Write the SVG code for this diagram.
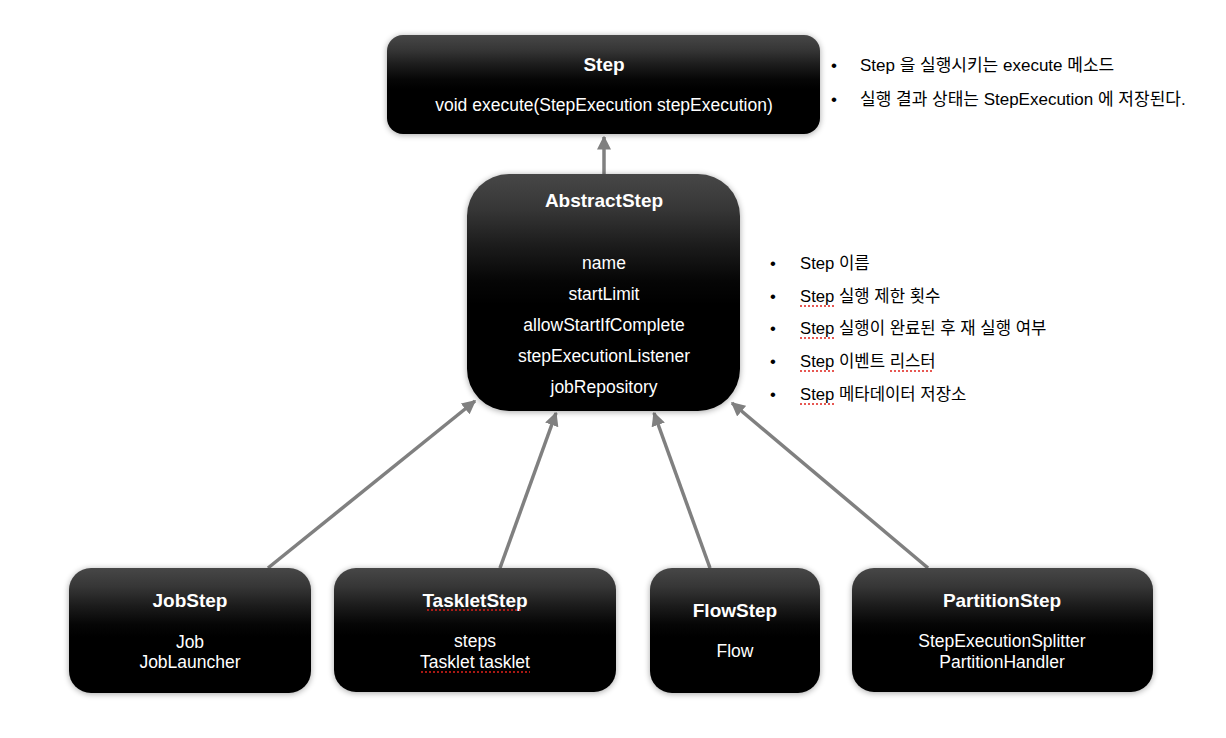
<svg xmlns="http://www.w3.org/2000/svg" width="1226" height="738" viewBox="0 0 1226 738">
<defs>
<linearGradient id="g" x1="0" y1="0" x2="0" y2="1">
<stop offset="0" stop-color="#474747"/>
<stop offset="0.15" stop-color="#363636"/>
<stop offset="0.3" stop-color="#1c1c1c"/>
<stop offset="0.45" stop-color="#060606"/>
<stop offset="0.55" stop-color="#000"/>
<stop offset="1" stop-color="#000"/>
</linearGradient>
<filter id="sh" x="-10%" y="-15%" width="120%" height="135%">
<feGaussianBlur stdDeviation="3"/>
</filter>
<marker id="ah" viewBox="0 0 10 10" refX="9" refY="5" markerWidth="4" markerHeight="4" orient="auto" markerUnits="strokeWidth">
<path d="M0,0 L10,5 L0,10 z" fill="#808080"/>
</marker>
<style>
.box{fill:url(#g)}
.shd{fill:#000;opacity:0.35;filter:url(#sh)}
.t{font-family:"Liberation Sans",Arial,sans-serif;fill:#fff;text-anchor:middle}
.b{font-weight:bold;font-size:19px}
.n{font-size:17.5px}
.k{font-family:"Liberation Sans","Noto Sans CJK KR",sans-serif;font-size:16.7px;fill:#000}
.k2{font-size:17px}
.c{stroke:#808080;stroke-width:3.5;fill:none;marker-end:url(#ah)}
.sq{stroke:#e0201a;stroke-width:1.5;stroke-dasharray:2,2;fill:none}
</style>
</defs>
<rect width="1226" height="738" fill="#fff"/>
<g id="connectors">
<line class="c" x1="604" y1="174" x2="604" y2="137"/>
<line class="c" x1="268" y1="568" x2="475" y2="401"/>
<line class="c" x1="500" y1="568" x2="556" y2="413"/>
<line class="c" x1="710" y1="568" x2="654" y2="413"/>
<line class="c" x1="928" y1="568" x2="732" y2="403"/>
</g>
<g id="step">
<rect class="shd" x="387" y="36" width="433" height="99" rx="16"/>
<rect class="box" x="387" y="35" width="433" height="99" rx="16"/>
<text class="t b" x="604" y="71">Step</text>
<text class="t n" x="604" y="111">void execute(StepExecution stepExecution)</text>
</g>
<g id="abstractstep">
<rect class="shd" x="467" y="175" width="273" height="237" rx="42"/>
<rect class="box" x="467" y="174" width="273" height="237" rx="42"/>
<text class="t b" x="604" y="207">AbstractStep</text>
<text class="t n" x="604" y="269">name</text>
<text class="t n" x="604" y="300">startLimit</text>
<text class="t n" x="604" y="331">allowStartIfComplete</text>
<text class="t n" x="604" y="362">stepExecutionListener</text>
<text class="t n" x="604" y="393">jobRepository</text>
</g>
<g id="jobstep">
<rect class="shd" x="69" y="569" width="242" height="125" rx="22"/>
<rect class="box" x="69" y="568" width="242" height="125" rx="22"/>
<text class="t b" x="190" y="607">JobStep</text>
<text class="t n" x="190" y="648">Job</text>
<text class="t n" x="190" y="668">JobLauncher</text>
</g>
<g id="taskletstep">
<rect class="shd" x="334" y="569" width="282" height="124" rx="22"/>
<rect class="box" x="334" y="568" width="282" height="124" rx="22"/>
<text class="t b" x="475" y="607">TaskletStep</text>
<text class="t n" x="475" y="647">steps</text>
<text class="t n" x="475" y="668">Tasklet tasklet</text>
<path class="sq" d="M427,610 H523 M421,672 H530"/>
</g>
<g id="flowstep">
<rect class="shd" x="650" y="569" width="170" height="125" rx="22"/>
<rect class="box" x="650" y="568" width="170" height="125" rx="22"/>
<text class="t b" x="735" y="617">FlowStep</text>
<text class="t n" x="735" y="657">Flow</text>
</g>
<g id="partitionstep">
<rect class="shd" x="852" y="569" width="301" height="124" rx="22"/>
<rect class="box" x="852" y="568" width="301" height="124" rx="22"/>
<text class="t b" x="1002" y="607">PartitionStep</text>
<text class="t n" x="1002" y="647">StepExecutionSplitter</text>
<text class="t n" x="1002" y="668">PartitionHandler</text>
</g>
<g id="step-notes">
<text class="k k2" x="831" y="71">•</text>
<text class="k k2" x="860" y="71">Step 을 실행시키는 execute 메소드</text>
<text class="k k2" x="831" y="105">•</text>
<text class="k k2" x="860" y="105">실행 결과 상태는 StepExecution 에 저장된다.</text>
</g>
<g id="abstractstep-notes">
<text class="k" x="770" y="269">•</text>
<text class="k" x="800" y="269">Step 이름</text>
<text class="k" x="770" y="302">•</text>
<text class="k" x="800" y="302">Step 실행 제한 횟수</text>
<text class="k" x="770" y="334">•</text>
<text class="k" x="800" y="334">Step 실행이 완료된 후 재 실행 여부</text>
<text class="k" x="770" y="367">•</text>
<text class="k" x="800" y="367">Step 이벤트 리스터</text>
<text class="k" x="770" y="400">•</text>
<text class="k" x="800" y="400">Step 메타데이터 저장소</text>
<path class="sq" d="M800,306 H835 M800,338 H835 M800,371 H835 M890,371 H933 M800,404 H835"/>
</g>
</svg>
